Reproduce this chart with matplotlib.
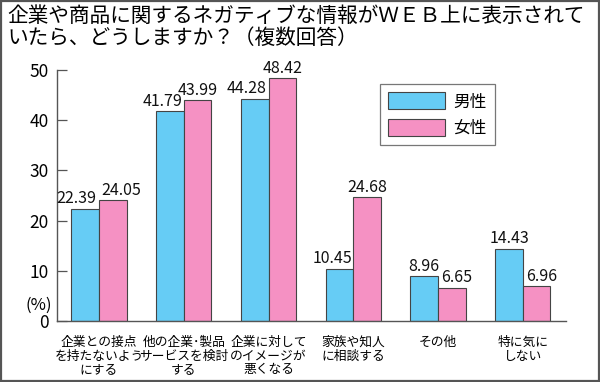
import matplotlib
matplotlib.use("Agg")
import matplotlib.pyplot as plt
from matplotlib.patches import Rectangle
import numpy as np

plt.rcParams['font.family'] = ['Noto Sans CJK JP', 'DejaVu Sans']

title = "企業や商品に関するネガティブな情報がＷＥＢ上に表示されて\nいたら、どうしますか？（複数回答）"
categories = ["企業との接点\nを持たないよう\nにする",
              "他の企業･製品\nサービスを検討\nする",
              "企業に対して\nのイメージが\n悪くなる",
              "家族や知人\nに相談する",
              "その他",
              "特に気に\nしない"]
male = [22.39, 41.79, 44.28, 10.45, 8.96, 14.43]
female = [24.05, 43.99, 48.42, 24.68, 6.65, 6.96]
series_names = ["男性", "女性"]
yticks = [0, 10, 20, 30, 40, 50]

# label horizontal nudges (pixels), as in the reference layout
male_dx = [-8.5, -7, -8, -7.5, 0, 0]
female_dx = [8, 0, 0, 0, 5, 5]

c_male = "#66CCF5"
c_female = "#F591C3"
edge = "#444444"

fig = plt.figure(figsize=(6.0, 3.82), dpi=100)
W, H = 600, 382
ax = fig.add_axes([57 / W, 1 - 321 / H, 509 / W, 251 / H])

x = np.arange(len(categories))
bw = 0.325
ax.bar(x - bw / 2, male, bw, color=c_male, edgecolor=edge, linewidth=0.8, label=series_names[0])
ax.bar(x + bw / 2, female, bw, color=c_female, edgecolor=edge, linewidth=0.8, label=series_names[1])

px2pt = 72 / 100
for xi, v, dx in zip(x - bw / 2, male, male_dx):
    ax.annotate(f"{v:.2f}", (xi, v), xytext=(dx * px2pt, 1.0), textcoords="offset points",
                ha="center", va="bottom", fontsize=11.5, color="#111111")
for xi, v, dx in zip(x + bw / 2, female, female_dx):
    ax.annotate(f"{v:.2f}", (xi, v), xytext=(dx * px2pt, 1.0), textcoords="offset points",
                ha="center", va="bottom", fontsize=11.5, color="#111111")

ax.set_xlim(-0.496, 5.51)
ax.set_ylim(0, 50)
ax.set_yticks(yticks)
ax.set_yticklabels([str(t) for t in yticks], fontsize=12.5)
ax.tick_params(axis="y", direction="in", length=7.5, width=0.9, color="#555555", pad=6)
ax.set_xticks([])
for s in ["top", "right"]:
    ax.spines[s].set_visible(False)
for s in ["left", "bottom"]:
    ax.spines[s].set_color("#555555")
    ax.spines[s].set_linewidth(1.0)

for xi, lab in zip(x, categories):
    ax.text(xi, -3.0, lab, ha="center", va="top", fontsize=9.2, linespacing=1.05,
            transform=ax.transData, clip_on=False)

fig.text(52 / W, 1 - 305 / H, "(%)", ha="right", va="center", fontsize=12)

fig.text(7 / W, 1 - 5 / H, title, ha="left", va="top", fontsize=14.9, linespacing=1.02)

# legend
leg = ax.legend(loc="upper left", bbox_to_anchor=((380 - 57) / 509, (321 - 84) / 251),
                frameon=True, fancybox=False, fontsize=12, handlelength=3.4, handleheight=1.2,
                borderpad=0.5, labelspacing=0.5, handletextpad=0.5, borderaxespad=0)
leg.get_frame().set_edgecolor("#555555")
leg.get_frame().set_linewidth(0.9)

# outer frame
fig.patches.append(Rectangle((0.001, 0.002), 0.997, 0.996, transform=fig.transFigure,
                             fill=False, edgecolor="#555555", linewidth=1.6))

fig.savefig("out.png", dpi=100)
